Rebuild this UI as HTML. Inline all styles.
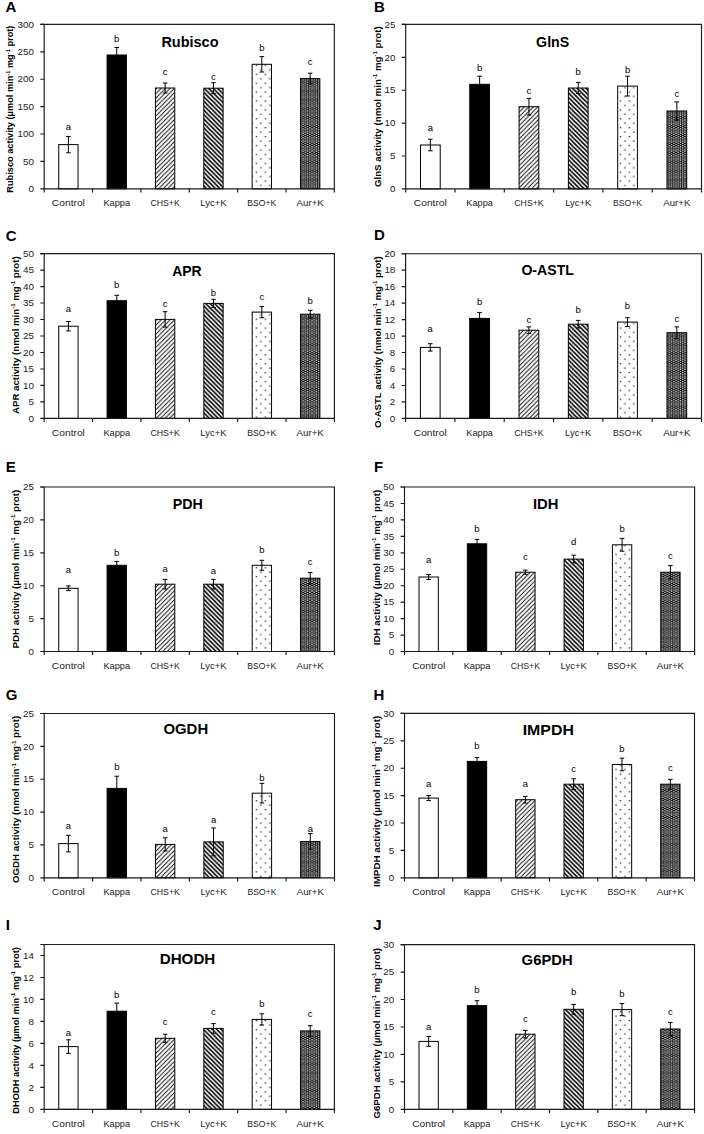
<!DOCTYPE html>
<html><head><meta charset="utf-8"><title>Enzyme activities</title>
<style>
html,body{margin:0;padding:0;background:#fff;}
body{width:704px;height:1134px;overflow:hidden;}
svg{display:block;font-family:"Liberation Sans",sans-serif;}
</style></head><body>
<svg width="704" height="1134" viewBox="0 0 704 1134">
<rect width="704" height="1134" fill="#fff"/>
<defs>
<pattern id="pBSO0" patternUnits="userSpaceOnUse" x="255.75" y="91.45" width="8.9" height="8.9"><rect width="8.9" height="8.9" fill="#fff"/><rect x="0" y="0" width="1.3" height="1.3" fill="#222"/><rect x="4.45" y="4.45" width="1.3" height="1.3" fill="#222"/></pattern>
<pattern id="pAUR0" patternUnits="userSpaceOnUse" x="255.84" y="91.54" width="8.9" height="8.9"><rect width="8.9" height="8.9" fill="#050505"/><path d="M0 0h1.3v1.3h-1.3zM0 2.23h1.3v1.3h-1.3zM0 4.45h1.3v1.3h-1.3zM0 6.68h1.3v1.3h-1.3zM2.23 1.11h1.3v1.3h-1.3zM2.23 3.34h1.3v1.3h-1.3zM2.23 5.56h1.3v1.3h-1.3zM2.23 7.79h1.3v1.3h-1.3zM4.45 0h1.3v1.3h-1.3zM4.45 2.23h1.3v1.3h-1.3zM4.45 4.45h1.3v1.3h-1.3zM4.45 6.68h1.3v1.3h-1.3zM6.68 1.11h1.3v1.3h-1.3zM6.68 3.34h1.3v1.3h-1.3zM6.68 5.56h1.3v1.3h-1.3zM6.68 7.79h1.3v1.3h-1.3z" fill="#fff"/></pattern>
<pattern id="pCHS0" patternUnits="userSpaceOnUse" x="255.84" y="91.54" width="4.45" height="4.45"><path d="M-1 1L1 -1M0 4.45L4.45 0M3.45 5.45L5.45 3.45" stroke="#000" stroke-width="0.9"/></pattern>
<pattern id="pLYC0" patternUnits="userSpaceOnUse" x="256.4" y="91.54" width="4.45" height="4.45"><rect width="4.45" height="4.45" fill="#fff"/><path d="M-1 3.45L1 5.45M0 0L4.45 4.45M3.45 -1L5.45 1" stroke="#000" stroke-width="1.57"/></pattern>
<pattern id="pBSO1" patternUnits="userSpaceOnUse" x="619.8" y="91.45" width="8.9" height="8.9"><rect width="8.9" height="8.9" fill="#fff"/><rect x="0" y="0" width="1.3" height="1.3" fill="#222"/><rect x="4.45" y="4.45" width="1.3" height="1.3" fill="#222"/></pattern>
<pattern id="pAUR1" patternUnits="userSpaceOnUse" x="619.89" y="91.54" width="8.9" height="8.9"><rect width="8.9" height="8.9" fill="#050505"/><path d="M0 0h1.3v1.3h-1.3zM0 2.23h1.3v1.3h-1.3zM0 4.45h1.3v1.3h-1.3zM0 6.68h1.3v1.3h-1.3zM2.23 1.11h1.3v1.3h-1.3zM2.23 3.34h1.3v1.3h-1.3zM2.23 5.56h1.3v1.3h-1.3zM2.23 7.79h1.3v1.3h-1.3zM4.45 0h1.3v1.3h-1.3zM4.45 2.23h1.3v1.3h-1.3zM4.45 4.45h1.3v1.3h-1.3zM4.45 6.68h1.3v1.3h-1.3zM6.68 1.11h1.3v1.3h-1.3zM6.68 3.34h1.3v1.3h-1.3zM6.68 5.56h1.3v1.3h-1.3zM6.68 7.79h1.3v1.3h-1.3z" fill="#fff"/></pattern>
<pattern id="pCHS1" patternUnits="userSpaceOnUse" x="619.89" y="91.54" width="4.45" height="4.45"><path d="M-1 1L1 -1M0 4.45L4.45 0M3.45 5.45L5.45 3.45" stroke="#000" stroke-width="0.9"/></pattern>
<pattern id="pLYC1" patternUnits="userSpaceOnUse" x="620.45" y="91.54" width="4.45" height="4.45"><rect width="4.45" height="4.45" fill="#fff"/><path d="M-1 3.45L1 5.45M0 0L4.45 4.45M3.45 -1L5.45 1" stroke="#000" stroke-width="1.57"/></pattern>
<pattern id="pBSO2" patternUnits="userSpaceOnUse" x="255.75" y="380.85" width="8.9" height="8.9"><rect width="8.9" height="8.9" fill="#fff"/><rect x="0" y="0" width="1.3" height="1.3" fill="#222"/><rect x="4.45" y="4.45" width="1.3" height="1.3" fill="#222"/></pattern>
<pattern id="pAUR2" patternUnits="userSpaceOnUse" x="255.84" y="380.94" width="8.9" height="8.9"><rect width="8.9" height="8.9" fill="#050505"/><path d="M0 0h1.3v1.3h-1.3zM0 2.23h1.3v1.3h-1.3zM0 4.45h1.3v1.3h-1.3zM0 6.68h1.3v1.3h-1.3zM2.23 1.11h1.3v1.3h-1.3zM2.23 3.34h1.3v1.3h-1.3zM2.23 5.56h1.3v1.3h-1.3zM2.23 7.79h1.3v1.3h-1.3zM4.45 0h1.3v1.3h-1.3zM4.45 2.23h1.3v1.3h-1.3zM4.45 4.45h1.3v1.3h-1.3zM4.45 6.68h1.3v1.3h-1.3zM6.68 1.11h1.3v1.3h-1.3zM6.68 3.34h1.3v1.3h-1.3zM6.68 5.56h1.3v1.3h-1.3zM6.68 7.79h1.3v1.3h-1.3z" fill="#fff"/></pattern>
<pattern id="pCHS2" patternUnits="userSpaceOnUse" x="255.84" y="380.94" width="4.45" height="4.45"><path d="M-1 1L1 -1M0 4.45L4.45 0M3.45 5.45L5.45 3.45" stroke="#000" stroke-width="0.9"/></pattern>
<pattern id="pLYC2" patternUnits="userSpaceOnUse" x="256.4" y="380.94" width="4.45" height="4.45"><rect width="4.45" height="4.45" fill="#fff"/><path d="M-1 3.45L1 5.45M0 0L4.45 4.45M3.45 -1L5.45 1" stroke="#000" stroke-width="1.57"/></pattern>
<pattern id="pBSO3" patternUnits="userSpaceOnUse" x="619.8" y="380.85" width="8.9" height="8.9"><rect width="8.9" height="8.9" fill="#fff"/><rect x="0" y="0" width="1.3" height="1.3" fill="#222"/><rect x="4.45" y="4.45" width="1.3" height="1.3" fill="#222"/></pattern>
<pattern id="pAUR3" patternUnits="userSpaceOnUse" x="619.89" y="380.94" width="8.9" height="8.9"><rect width="8.9" height="8.9" fill="#050505"/><path d="M0 0h1.3v1.3h-1.3zM0 2.23h1.3v1.3h-1.3zM0 4.45h1.3v1.3h-1.3zM0 6.68h1.3v1.3h-1.3zM2.23 1.11h1.3v1.3h-1.3zM2.23 3.34h1.3v1.3h-1.3zM2.23 5.56h1.3v1.3h-1.3zM2.23 7.79h1.3v1.3h-1.3zM4.45 0h1.3v1.3h-1.3zM4.45 2.23h1.3v1.3h-1.3zM4.45 4.45h1.3v1.3h-1.3zM4.45 6.68h1.3v1.3h-1.3zM6.68 1.11h1.3v1.3h-1.3zM6.68 3.34h1.3v1.3h-1.3zM6.68 5.56h1.3v1.3h-1.3zM6.68 7.79h1.3v1.3h-1.3z" fill="#fff"/></pattern>
<pattern id="pCHS3" patternUnits="userSpaceOnUse" x="619.89" y="380.94" width="4.45" height="4.45"><path d="M-1 1L1 -1M0 4.45L4.45 0M3.45 5.45L5.45 3.45" stroke="#000" stroke-width="0.9"/></pattern>
<pattern id="pLYC3" patternUnits="userSpaceOnUse" x="620.45" y="380.94" width="4.45" height="4.45"><rect width="4.45" height="4.45" fill="#fff"/><path d="M-1 3.45L1 5.45M0 0L4.45 4.45M3.45 -1L5.45 1" stroke="#000" stroke-width="1.57"/></pattern>
<pattern id="pBSO4" patternUnits="userSpaceOnUse" x="255.75" y="620.55" width="8.9" height="8.9"><rect width="8.9" height="8.9" fill="#fff"/><rect x="0" y="0" width="1.3" height="1.3" fill="#222"/><rect x="4.45" y="4.45" width="1.3" height="1.3" fill="#222"/></pattern>
<pattern id="pAUR4" patternUnits="userSpaceOnUse" x="255.84" y="620.64" width="8.9" height="8.9"><rect width="8.9" height="8.9" fill="#050505"/><path d="M0 0h1.3v1.3h-1.3zM0 2.23h1.3v1.3h-1.3zM0 4.45h1.3v1.3h-1.3zM0 6.68h1.3v1.3h-1.3zM2.23 1.11h1.3v1.3h-1.3zM2.23 3.34h1.3v1.3h-1.3zM2.23 5.56h1.3v1.3h-1.3zM2.23 7.79h1.3v1.3h-1.3zM4.45 0h1.3v1.3h-1.3zM4.45 2.23h1.3v1.3h-1.3zM4.45 4.45h1.3v1.3h-1.3zM4.45 6.68h1.3v1.3h-1.3zM6.68 1.11h1.3v1.3h-1.3zM6.68 3.34h1.3v1.3h-1.3zM6.68 5.56h1.3v1.3h-1.3zM6.68 7.79h1.3v1.3h-1.3z" fill="#fff"/></pattern>
<pattern id="pCHS4" patternUnits="userSpaceOnUse" x="255.84" y="620.64" width="4.45" height="4.45"><path d="M-1 1L1 -1M0 4.45L4.45 0M3.45 5.45L5.45 3.45" stroke="#000" stroke-width="0.9"/></pattern>
<pattern id="pLYC4" patternUnits="userSpaceOnUse" x="256.4" y="620.64" width="4.45" height="4.45"><rect width="4.45" height="4.45" fill="#fff"/><path d="M-1 3.45L1 5.45M0 0L4.45 4.45M3.45 -1L5.45 1" stroke="#000" stroke-width="1.57"/></pattern>
<pattern id="pBSO5" patternUnits="userSpaceOnUse" x="619.8" y="620.55" width="8.9" height="8.9"><rect width="8.9" height="8.9" fill="#fff"/><rect x="0" y="0" width="1.3" height="1.3" fill="#222"/><rect x="4.45" y="4.45" width="1.3" height="1.3" fill="#222"/></pattern>
<pattern id="pAUR5" patternUnits="userSpaceOnUse" x="619.89" y="620.64" width="8.9" height="8.9"><rect width="8.9" height="8.9" fill="#050505"/><path d="M0 0h1.3v1.3h-1.3zM0 2.23h1.3v1.3h-1.3zM0 4.45h1.3v1.3h-1.3zM0 6.68h1.3v1.3h-1.3zM2.23 1.11h1.3v1.3h-1.3zM2.23 3.34h1.3v1.3h-1.3zM2.23 5.56h1.3v1.3h-1.3zM2.23 7.79h1.3v1.3h-1.3zM4.45 0h1.3v1.3h-1.3zM4.45 2.23h1.3v1.3h-1.3zM4.45 4.45h1.3v1.3h-1.3zM4.45 6.68h1.3v1.3h-1.3zM6.68 1.11h1.3v1.3h-1.3zM6.68 3.34h1.3v1.3h-1.3zM6.68 5.56h1.3v1.3h-1.3zM6.68 7.79h1.3v1.3h-1.3z" fill="#fff"/></pattern>
<pattern id="pCHS5" patternUnits="userSpaceOnUse" x="619.89" y="620.64" width="4.45" height="4.45"><path d="M-1 1L1 -1M0 4.45L4.45 0M3.45 5.45L5.45 3.45" stroke="#000" stroke-width="0.9"/></pattern>
<pattern id="pLYC5" patternUnits="userSpaceOnUse" x="620.45" y="620.64" width="4.45" height="4.45"><rect width="4.45" height="4.45" fill="#fff"/><path d="M-1 3.45L1 5.45M0 0L4.45 4.45M3.45 -1L5.45 1" stroke="#000" stroke-width="1.57"/></pattern>
<pattern id="pBSO6" patternUnits="userSpaceOnUse" x="255.75" y="844.55" width="8.9" height="8.9"><rect width="8.9" height="8.9" fill="#fff"/><rect x="0" y="0" width="1.3" height="1.3" fill="#222"/><rect x="4.45" y="4.45" width="1.3" height="1.3" fill="#222"/></pattern>
<pattern id="pAUR6" patternUnits="userSpaceOnUse" x="255.84" y="844.64" width="8.9" height="8.9"><rect width="8.9" height="8.9" fill="#050505"/><path d="M0 0h1.3v1.3h-1.3zM0 2.23h1.3v1.3h-1.3zM0 4.45h1.3v1.3h-1.3zM0 6.68h1.3v1.3h-1.3zM2.23 1.11h1.3v1.3h-1.3zM2.23 3.34h1.3v1.3h-1.3zM2.23 5.56h1.3v1.3h-1.3zM2.23 7.79h1.3v1.3h-1.3zM4.45 0h1.3v1.3h-1.3zM4.45 2.23h1.3v1.3h-1.3zM4.45 4.45h1.3v1.3h-1.3zM4.45 6.68h1.3v1.3h-1.3zM6.68 1.11h1.3v1.3h-1.3zM6.68 3.34h1.3v1.3h-1.3zM6.68 5.56h1.3v1.3h-1.3zM6.68 7.79h1.3v1.3h-1.3z" fill="#fff"/></pattern>
<pattern id="pCHS6" patternUnits="userSpaceOnUse" x="255.84" y="844.64" width="4.45" height="4.45"><path d="M-1 1L1 -1M0 4.45L4.45 0M3.45 5.45L5.45 3.45" stroke="#000" stroke-width="0.9"/></pattern>
<pattern id="pLYC6" patternUnits="userSpaceOnUse" x="256.4" y="844.64" width="4.45" height="4.45"><rect width="4.45" height="4.45" fill="#fff"/><path d="M-1 3.45L1 5.45M0 0L4.45 4.45M3.45 -1L5.45 1" stroke="#000" stroke-width="1.57"/></pattern>
<pattern id="pBSO7" patternUnits="userSpaceOnUse" x="619.8" y="844.55" width="8.9" height="8.9"><rect width="8.9" height="8.9" fill="#fff"/><rect x="0" y="0" width="1.3" height="1.3" fill="#222"/><rect x="4.45" y="4.45" width="1.3" height="1.3" fill="#222"/></pattern>
<pattern id="pAUR7" patternUnits="userSpaceOnUse" x="619.89" y="844.64" width="8.9" height="8.9"><rect width="8.9" height="8.9" fill="#050505"/><path d="M0 0h1.3v1.3h-1.3zM0 2.23h1.3v1.3h-1.3zM0 4.45h1.3v1.3h-1.3zM0 6.68h1.3v1.3h-1.3zM2.23 1.11h1.3v1.3h-1.3zM2.23 3.34h1.3v1.3h-1.3zM2.23 5.56h1.3v1.3h-1.3zM2.23 7.79h1.3v1.3h-1.3zM4.45 0h1.3v1.3h-1.3zM4.45 2.23h1.3v1.3h-1.3zM4.45 4.45h1.3v1.3h-1.3zM4.45 6.68h1.3v1.3h-1.3zM6.68 1.11h1.3v1.3h-1.3zM6.68 3.34h1.3v1.3h-1.3zM6.68 5.56h1.3v1.3h-1.3zM6.68 7.79h1.3v1.3h-1.3z" fill="#fff"/></pattern>
<pattern id="pCHS7" patternUnits="userSpaceOnUse" x="619.89" y="844.64" width="4.45" height="4.45"><path d="M-1 1L1 -1M0 4.45L4.45 0M3.45 5.45L5.45 3.45" stroke="#000" stroke-width="0.9"/></pattern>
<pattern id="pLYC7" patternUnits="userSpaceOnUse" x="620.45" y="844.64" width="4.45" height="4.45"><rect width="4.45" height="4.45" fill="#fff"/><path d="M-1 3.45L1 5.45M0 0L4.45 4.45M3.45 -1L5.45 1" stroke="#000" stroke-width="1.57"/></pattern>
<pattern id="pBSO8" patternUnits="userSpaceOnUse" x="255.75" y="1073.4" width="8.9" height="8.9"><rect width="8.9" height="8.9" fill="#fff"/><rect x="0" y="0" width="1.3" height="1.3" fill="#222"/><rect x="4.45" y="4.45" width="1.3" height="1.3" fill="#222"/></pattern>
<pattern id="pAUR8" patternUnits="userSpaceOnUse" x="255.84" y="1073.49" width="8.9" height="8.9"><rect width="8.9" height="8.9" fill="#050505"/><path d="M0 0h1.3v1.3h-1.3zM0 2.23h1.3v1.3h-1.3zM0 4.45h1.3v1.3h-1.3zM0 6.68h1.3v1.3h-1.3zM2.23 1.11h1.3v1.3h-1.3zM2.23 3.34h1.3v1.3h-1.3zM2.23 5.56h1.3v1.3h-1.3zM2.23 7.79h1.3v1.3h-1.3zM4.45 0h1.3v1.3h-1.3zM4.45 2.23h1.3v1.3h-1.3zM4.45 4.45h1.3v1.3h-1.3zM4.45 6.68h1.3v1.3h-1.3zM6.68 1.11h1.3v1.3h-1.3zM6.68 3.34h1.3v1.3h-1.3zM6.68 5.56h1.3v1.3h-1.3zM6.68 7.79h1.3v1.3h-1.3z" fill="#fff"/></pattern>
<pattern id="pCHS8" patternUnits="userSpaceOnUse" x="255.84" y="1073.49" width="4.45" height="4.45"><path d="M-1 1L1 -1M0 4.45L4.45 0M3.45 5.45L5.45 3.45" stroke="#000" stroke-width="0.9"/></pattern>
<pattern id="pLYC8" patternUnits="userSpaceOnUse" x="256.4" y="1073.49" width="4.45" height="4.45"><rect width="4.45" height="4.45" fill="#fff"/><path d="M-1 3.45L1 5.45M0 0L4.45 4.45M3.45 -1L5.45 1" stroke="#000" stroke-width="1.57"/></pattern>
<pattern id="pBSO9" patternUnits="userSpaceOnUse" x="619.8" y="1073.4" width="8.9" height="8.9"><rect width="8.9" height="8.9" fill="#fff"/><rect x="0" y="0" width="1.3" height="1.3" fill="#222"/><rect x="4.45" y="4.45" width="1.3" height="1.3" fill="#222"/></pattern>
<pattern id="pAUR9" patternUnits="userSpaceOnUse" x="619.89" y="1073.49" width="8.9" height="8.9"><rect width="8.9" height="8.9" fill="#050505"/><path d="M0 0h1.3v1.3h-1.3zM0 2.23h1.3v1.3h-1.3zM0 4.45h1.3v1.3h-1.3zM0 6.68h1.3v1.3h-1.3zM2.23 1.11h1.3v1.3h-1.3zM2.23 3.34h1.3v1.3h-1.3zM2.23 5.56h1.3v1.3h-1.3zM2.23 7.79h1.3v1.3h-1.3zM4.45 0h1.3v1.3h-1.3zM4.45 2.23h1.3v1.3h-1.3zM4.45 4.45h1.3v1.3h-1.3zM4.45 6.68h1.3v1.3h-1.3zM6.68 1.11h1.3v1.3h-1.3zM6.68 3.34h1.3v1.3h-1.3zM6.68 5.56h1.3v1.3h-1.3zM6.68 7.79h1.3v1.3h-1.3z" fill="#fff"/></pattern>
<pattern id="pCHS9" patternUnits="userSpaceOnUse" x="619.89" y="1073.49" width="4.45" height="4.45"><path d="M-1 1L1 -1M0 4.45L4.45 0M3.45 5.45L5.45 3.45" stroke="#000" stroke-width="0.9"/></pattern>
<pattern id="pLYC9" patternUnits="userSpaceOnUse" x="620.45" y="1073.49" width="4.45" height="4.45"><rect width="4.45" height="4.45" fill="#fff"/><path d="M-1 3.45L1 5.45M0 0L4.45 4.45M3.45 -1L5.45 1" stroke="#000" stroke-width="1.57"/></pattern>
</defs>
<g><rect x="58.71" y="144.6" width="19.34" height="44.2" fill="#fff" stroke="#000" stroke-width="1"/><rect x="107.07" y="55" width="19.34" height="133.8" fill="#000" stroke="#000" stroke-width="1"/><rect x="155.42" y="88" width="19.34" height="100.8" fill="url(#pCHS0)" stroke="#000" stroke-width="1"/><rect x="203.78" y="88.2" width="19.34" height="100.6" fill="url(#pLYC0)" stroke="#000" stroke-width="1"/><rect x="252.14" y="64.3" width="19.34" height="124.5" fill="url(#pBSO0)" stroke="#000" stroke-width="1"/><rect x="300.5" y="78.6" width="19.34" height="110.2" fill="url(#pAUR0)" stroke="#000" stroke-width="1"/><path d="M68.38 136.4V152.8M66.08 136.4H70.68M66.08 152.8H70.68" stroke="#000" stroke-width="1" fill="none"/><text x="68.38" y="129.6" text-anchor="middle" font-size="9.5">a</text><path d="M116.74 47.5V62.5M114.44 47.5H119.04M114.44 62.5H119.04" stroke="#000" stroke-width="1" fill="none"/><text x="116.74" y="41.8" text-anchor="middle" font-size="9.5">b</text><path d="M165.1 83V93M162.8 83H167.4M162.8 93H167.4" stroke="#000" stroke-width="1" fill="none"/><text x="165.1" y="74.8" text-anchor="middle" font-size="9.5">c</text><path d="M213.45 82.7V93.7M211.15 82.7H215.75M211.15 93.7H215.75" stroke="#000" stroke-width="1" fill="none"/><text x="213.45" y="80.2" text-anchor="middle" font-size="9.5">c</text><path d="M261.81 56.6V72M259.51 56.6H264.11M259.51 72H264.11" stroke="#000" stroke-width="1" fill="none"/><text x="261.81" y="51.4" text-anchor="middle" font-size="9.5">b</text><path d="M310.17 73.2V84M307.87 73.2H312.47M307.87 84H312.47" stroke="#000" stroke-width="1" fill="none"/><text x="310.17" y="64.9" text-anchor="middle" font-size="9.5">c</text><path d="M40.3 24.4H334.35V188.8" stroke="#1a1a1a" stroke-width="1.15" fill="none"/><path d="M44.2 24.4V188.8H334.35" stroke="#1a1a1a" stroke-width="1.15" fill="none"/><text x="33.9" y="192" text-anchor="end" font-size="9.8" fill="#222">0</text><text x="33.9" y="164.6" text-anchor="end" font-size="9.8" fill="#222">50</text><text x="33.9" y="137.2" text-anchor="end" font-size="9.8" fill="#222">100</text><text x="33.9" y="109.8" text-anchor="end" font-size="9.8" fill="#222">150</text><text x="33.9" y="82.4" text-anchor="end" font-size="9.8" fill="#222">200</text><text x="33.9" y="55" text-anchor="end" font-size="9.8" fill="#222">250</text><text x="33.9" y="27.6" text-anchor="end" font-size="9.8" fill="#222">300</text><path d="M40.3 188.8H44.2M40.3 161.4H44.2M40.3 134H44.2M40.3 106.6H44.2M40.3 79.2H44.2M40.3 51.8H44.2M40.3 24.4H44.2M44.2 188.8V192.4M92.56 188.8V192.4M140.92 188.8V192.4M189.28 188.8V192.4M237.63 188.8V192.4M285.99 188.8V192.4M334.35 188.8V192.4" stroke="#1a1a1a" stroke-width="1.15" fill="none"/><text x="68.38" y="206" text-anchor="middle" font-size="9.4" fill="#222" textLength="33" lengthAdjust="spacingAndGlyphs">Control</text><text x="116.74" y="206" text-anchor="middle" font-size="9.4" fill="#222" textLength="26.7" lengthAdjust="spacingAndGlyphs">Kappa</text><text x="165.1" y="206" text-anchor="middle" font-size="9.4" fill="#222" textLength="29.3" lengthAdjust="spacingAndGlyphs">CHS+K</text><text x="213.45" y="206" text-anchor="middle" font-size="9.4" fill="#222" textLength="26.2" lengthAdjust="spacingAndGlyphs">Lyc+K</text><text x="261.81" y="206" text-anchor="middle" font-size="9.4" fill="#222" textLength="29" lengthAdjust="spacingAndGlyphs">BSO+K</text><text x="310.17" y="206" text-anchor="middle" font-size="9.4" fill="#222" textLength="27.3" lengthAdjust="spacingAndGlyphs">Aur+K</text><text x="161.4" y="46.6" font-size="14.8" font-weight="bold" textLength="57.1" lengthAdjust="spacingAndGlyphs">Rubisco</text><text x="5.4" y="12.4" font-size="15" font-weight="bold">A</text><text transform="translate(13.1 192.7) rotate(-90)" x="0" y="0" font-size="9.7" font-weight="bold" textLength="167.1" lengthAdjust="spacingAndGlyphs">Rubisco activity (µmol min<tspan font-size="6" dy="-3.6">-1</tspan><tspan dy="3.6"> mg</tspan><tspan font-size="6" dy="-3.6">-1</tspan><tspan dy="3.6"> prot)</tspan></text></g>
<g><rect x="420.49" y="145" width="19.72" height="43.9" fill="#fff" stroke="#000" stroke-width="1"/><rect x="469.79" y="84.3" width="19.72" height="104.6" fill="#000" stroke="#000" stroke-width="1"/><rect x="519.09" y="106.7" width="19.72" height="82.2" fill="url(#pCHS1)" stroke="#000" stroke-width="1"/><rect x="568.39" y="88" width="19.72" height="100.9" fill="url(#pLYC1)" stroke="#000" stroke-width="1"/><rect x="617.69" y="86.1" width="19.72" height="102.8" fill="url(#pBSO1)" stroke="#000" stroke-width="1"/><rect x="666.99" y="111" width="19.72" height="77.9" fill="url(#pAUR1)" stroke="#000" stroke-width="1"/><path d="M430.35 139.2V150.8M428.05 139.2H432.65M428.05 150.8H432.65" stroke="#000" stroke-width="1" fill="none"/><text x="430.35" y="130.5" text-anchor="middle" font-size="9.5">a</text><path d="M479.65 76.2V92.4M477.35 76.2H481.95M477.35 92.4H481.95" stroke="#000" stroke-width="1" fill="none"/><text x="479.65" y="71.4" text-anchor="middle" font-size="9.5">b</text><path d="M528.95 98.4V115M526.65 98.4H531.25M526.65 115H531.25" stroke="#000" stroke-width="1" fill="none"/><text x="528.95" y="93.6" text-anchor="middle" font-size="9.5">c</text><path d="M578.25 82.4V93.6M575.95 82.4H580.55M575.95 93.6H580.55" stroke="#000" stroke-width="1" fill="none"/><text x="578.25" y="74.9" text-anchor="middle" font-size="9.5">b</text><path d="M627.55 76.2V96M625.25 76.2H629.85M625.25 96H629.85" stroke="#000" stroke-width="1" fill="none"/><text x="627.55" y="72.9" text-anchor="middle" font-size="9.5">b</text><path d="M676.85 101.9V120.1M674.55 101.9H679.15M674.55 120.1H679.15" stroke="#000" stroke-width="1" fill="none"/><text x="676.85" y="97.3" text-anchor="middle" font-size="9.5">c</text><path d="M401.8 24.4H701.5V188.9" stroke="#1a1a1a" stroke-width="1.15" fill="none"/><path d="M405.7 24.4V188.9H701.5" stroke="#1a1a1a" stroke-width="1.15" fill="none"/><text x="395.4" y="192.1" text-anchor="end" font-size="9.8" fill="#222">0</text><text x="395.4" y="159.2" text-anchor="end" font-size="9.8" fill="#222">5</text><text x="395.4" y="126.3" text-anchor="end" font-size="9.8" fill="#222">10</text><text x="395.4" y="93.4" text-anchor="end" font-size="9.8" fill="#222">15</text><text x="395.4" y="60.5" text-anchor="end" font-size="9.8" fill="#222">20</text><text x="395.4" y="27.6" text-anchor="end" font-size="9.8" fill="#222">25</text><path d="M401.8 188.9H405.7M401.8 156H405.7M401.8 123.1H405.7M401.8 90.2H405.7M401.8 57.3H405.7M401.8 24.4H405.7M405.7 188.9V192.5M455 188.9V192.5M504.3 188.9V192.5M553.6 188.9V192.5M602.9 188.9V192.5M652.2 188.9V192.5M701.5 188.9V192.5" stroke="#1a1a1a" stroke-width="1.15" fill="none"/><text x="430.35" y="206.1" text-anchor="middle" font-size="9.4" fill="#222" textLength="33" lengthAdjust="spacingAndGlyphs">Control</text><text x="479.65" y="206.1" text-anchor="middle" font-size="9.4" fill="#222" textLength="26.7" lengthAdjust="spacingAndGlyphs">Kappa</text><text x="528.95" y="206.1" text-anchor="middle" font-size="9.4" fill="#222" textLength="29.3" lengthAdjust="spacingAndGlyphs">CHS+K</text><text x="578.25" y="206.1" text-anchor="middle" font-size="9.4" fill="#222" textLength="26.2" lengthAdjust="spacingAndGlyphs">Lyc+K</text><text x="627.55" y="206.1" text-anchor="middle" font-size="9.4" fill="#222" textLength="29" lengthAdjust="spacingAndGlyphs">BSO+K</text><text x="676.85" y="206.1" text-anchor="middle" font-size="9.4" fill="#222" textLength="27.3" lengthAdjust="spacingAndGlyphs">Aur+K</text><text x="536.1" y="46.6" font-size="14.8" font-weight="bold" textLength="33.2" lengthAdjust="spacingAndGlyphs">GlnS</text><text x="373.9" y="12" font-size="15" font-weight="bold">B</text><text transform="translate(380.8 187.1) rotate(-90)" x="0" y="0" font-size="9.7" font-weight="bold" textLength="160.8" lengthAdjust="spacingAndGlyphs">GlnS activity (nmol min<tspan font-size="6" dy="-3.6">-1</tspan><tspan dy="3.6"> mg</tspan><tspan font-size="6" dy="-3.6">-1</tspan><tspan dy="3.6"> prot)</tspan></text></g>
<g><rect x="58.71" y="326.2" width="19.35" height="92.2" fill="#fff" stroke="#000" stroke-width="1"/><rect x="107.08" y="300.7" width="19.35" height="117.7" fill="#000" stroke="#000" stroke-width="1"/><rect x="155.44" y="319.4" width="19.35" height="99" fill="url(#pCHS2)" stroke="#000" stroke-width="1"/><rect x="203.81" y="303.4" width="19.35" height="115" fill="url(#pLYC2)" stroke="#000" stroke-width="1"/><rect x="252.18" y="312.1" width="19.35" height="106.3" fill="url(#pBSO2)" stroke="#000" stroke-width="1"/><rect x="300.54" y="314.2" width="19.35" height="104.2" fill="url(#pAUR2)" stroke="#000" stroke-width="1"/><path d="M68.38 321.5V330.9M66.08 321.5H70.68M66.08 330.9H70.68" stroke="#000" stroke-width="1" fill="none"/><text x="68.38" y="311.5" text-anchor="middle" font-size="9.5">a</text><path d="M116.75 295.3V306.1M114.45 295.3H119.05M114.45 306.1H119.05" stroke="#000" stroke-width="1" fill="none"/><text x="116.75" y="287.7" text-anchor="middle" font-size="9.5">b</text><path d="M165.12 311.7V327.1M162.82 311.7H167.42M162.82 327.1H167.42" stroke="#000" stroke-width="1" fill="none"/><text x="165.12" y="307" text-anchor="middle" font-size="9.5">c</text><path d="M213.48 299.3V307.5M211.18 299.3H215.78M211.18 307.5H215.78" stroke="#000" stroke-width="1" fill="none"/><text x="213.48" y="295.6" text-anchor="middle" font-size="9.5">b</text><path d="M261.85 306.5V317.7M259.55 306.5H264.15M259.55 317.7H264.15" stroke="#000" stroke-width="1" fill="none"/><text x="261.85" y="299.7" text-anchor="middle" font-size="9.5">c</text><path d="M310.22 310.3V318.1M307.92 310.3H312.52M307.92 318.1H312.52" stroke="#000" stroke-width="1" fill="none"/><text x="310.22" y="304.3" text-anchor="middle" font-size="9.5">b</text><path d="M40.3 253.6H334.4V418.4" stroke="#1a1a1a" stroke-width="1.15" fill="none"/><path d="M44.2 253.6V418.4H334.4" stroke="#1a1a1a" stroke-width="1.15" fill="none"/><text x="33.9" y="421.6" text-anchor="end" font-size="9.8" fill="#222">0</text><text x="33.9" y="405.12" text-anchor="end" font-size="9.8" fill="#222">5</text><text x="33.9" y="388.64" text-anchor="end" font-size="9.8" fill="#222">10</text><text x="33.9" y="372.16" text-anchor="end" font-size="9.8" fill="#222">15</text><text x="33.9" y="355.68" text-anchor="end" font-size="9.8" fill="#222">20</text><text x="33.9" y="339.2" text-anchor="end" font-size="9.8" fill="#222">25</text><text x="33.9" y="322.72" text-anchor="end" font-size="9.8" fill="#222">30</text><text x="33.9" y="306.24" text-anchor="end" font-size="9.8" fill="#222">35</text><text x="33.9" y="289.76" text-anchor="end" font-size="9.8" fill="#222">40</text><text x="33.9" y="273.28" text-anchor="end" font-size="9.8" fill="#222">45</text><text x="33.9" y="256.8" text-anchor="end" font-size="9.8" fill="#222">50</text><path d="M40.3 418.4H44.2M40.3 401.92H44.2M40.3 385.44H44.2M40.3 368.96H44.2M40.3 352.48H44.2M40.3 336H44.2M40.3 319.52H44.2M40.3 303.04H44.2M40.3 286.56H44.2M40.3 270.08H44.2M40.3 253.6H44.2M44.2 418.4V422M92.57 418.4V422M140.93 418.4V422M189.3 418.4V422M237.67 418.4V422M286.03 418.4V422M334.4 418.4V422" stroke="#1a1a1a" stroke-width="1.15" fill="none"/><text x="68.38" y="435.6" text-anchor="middle" font-size="9.4" fill="#222" textLength="33" lengthAdjust="spacingAndGlyphs">Control</text><text x="116.75" y="435.6" text-anchor="middle" font-size="9.4" fill="#222" textLength="26.7" lengthAdjust="spacingAndGlyphs">Kappa</text><text x="165.12" y="435.6" text-anchor="middle" font-size="9.4" fill="#222" textLength="29.3" lengthAdjust="spacingAndGlyphs">CHS+K</text><text x="213.48" y="435.6" text-anchor="middle" font-size="9.4" fill="#222" textLength="26.2" lengthAdjust="spacingAndGlyphs">Lyc+K</text><text x="261.85" y="435.6" text-anchor="middle" font-size="9.4" fill="#222" textLength="29" lengthAdjust="spacingAndGlyphs">BSO+K</text><text x="310.22" y="435.6" text-anchor="middle" font-size="9.4" fill="#222" textLength="27.3" lengthAdjust="spacingAndGlyphs">Aur+K</text><text x="172.2" y="275.8" font-size="14.8" font-weight="bold" textLength="29.5" lengthAdjust="spacingAndGlyphs">APR</text><text x="5.7" y="240.5" font-size="15" font-weight="bold">C</text><text transform="translate(19 414) rotate(-90)" x="0" y="0" font-size="9.7" font-weight="bold" textLength="157.7" lengthAdjust="spacingAndGlyphs">APR activity (nmol min<tspan font-size="6" dy="-3.6">-1</tspan><tspan dy="3.6"> mg</tspan><tspan font-size="6" dy="-3.6">-1</tspan><tspan dy="3.6"> prot)</tspan></text></g>
<g><rect x="420.39" y="347.4" width="19.73" height="71" fill="#fff" stroke="#000" stroke-width="1"/><rect x="469.71" y="318.4" width="19.73" height="100" fill="#000" stroke="#000" stroke-width="1"/><rect x="519.03" y="330.2" width="19.73" height="88.2" fill="url(#pCHS3)" stroke="#000" stroke-width="1"/><rect x="568.35" y="324.2" width="19.73" height="94.2" fill="url(#pLYC3)" stroke="#000" stroke-width="1"/><rect x="617.66" y="322.1" width="19.73" height="96.3" fill="url(#pBSO3)" stroke="#000" stroke-width="1"/><rect x="666.98" y="332.7" width="19.73" height="85.7" fill="url(#pAUR3)" stroke="#000" stroke-width="1"/><path d="M430.26 343.7V351.1M427.96 343.7H432.56M427.96 351.1H432.56" stroke="#000" stroke-width="1" fill="none"/><text x="430.26" y="332.3" text-anchor="middle" font-size="9.5">a</text><path d="M479.58 312.6V324.2M477.28 312.6H481.88M477.28 324.2H481.88" stroke="#000" stroke-width="1" fill="none"/><text x="479.58" y="305.3" text-anchor="middle" font-size="9.5">b</text><path d="M528.89 326.9V333.5M526.59 326.9H531.19M526.59 333.5H531.19" stroke="#000" stroke-width="1" fill="none"/><text x="528.89" y="322.5" text-anchor="middle" font-size="9.5">c</text><path d="M578.21 320.4V328M575.91 320.4H580.51M575.91 328H580.51" stroke="#000" stroke-width="1" fill="none"/><text x="578.21" y="312.6" text-anchor="middle" font-size="9.5">b</text><path d="M627.52 317.7V326.5M625.23 317.7H629.82M625.23 326.5H629.82" stroke="#000" stroke-width="1" fill="none"/><text x="627.52" y="309" text-anchor="middle" font-size="9.5">b</text><path d="M676.84 326.9V338.5M674.54 326.9H679.14M674.54 338.5H679.14" stroke="#000" stroke-width="1" fill="none"/><text x="676.84" y="321.9" text-anchor="middle" font-size="9.5">c</text><path d="M401.7 253.7H701.5V418.4" stroke="#1a1a1a" stroke-width="1.15" fill="none"/><path d="M405.6 253.7V418.4H701.5" stroke="#1a1a1a" stroke-width="1.15" fill="none"/><text x="395.3" y="421.6" text-anchor="end" font-size="9.8" fill="#222">0</text><text x="395.3" y="405.13" text-anchor="end" font-size="9.8" fill="#222">2</text><text x="395.3" y="388.66" text-anchor="end" font-size="9.8" fill="#222">4</text><text x="395.3" y="372.19" text-anchor="end" font-size="9.8" fill="#222">6</text><text x="395.3" y="355.72" text-anchor="end" font-size="9.8" fill="#222">8</text><text x="395.3" y="339.25" text-anchor="end" font-size="9.8" fill="#222">10</text><text x="395.3" y="322.78" text-anchor="end" font-size="9.8" fill="#222">12</text><text x="395.3" y="306.31" text-anchor="end" font-size="9.8" fill="#222">14</text><text x="395.3" y="289.84" text-anchor="end" font-size="9.8" fill="#222">16</text><text x="395.3" y="273.37" text-anchor="end" font-size="9.8" fill="#222">18</text><text x="395.3" y="256.9" text-anchor="end" font-size="9.8" fill="#222">20</text><path d="M401.7 418.4H405.6M401.7 401.93H405.6M401.7 385.46H405.6M401.7 368.99H405.6M401.7 352.52H405.6M401.7 336.05H405.6M401.7 319.58H405.6M401.7 303.11H405.6M401.7 286.64H405.6M401.7 270.17H405.6M401.7 253.7H405.6M405.6 418.4V422M454.92 418.4V422M504.23 418.4V422M553.55 418.4V422M602.87 418.4V422M652.18 418.4V422M701.5 418.4V422" stroke="#1a1a1a" stroke-width="1.15" fill="none"/><text x="430.26" y="435.6" text-anchor="middle" font-size="9.4" fill="#222" textLength="33" lengthAdjust="spacingAndGlyphs">Control</text><text x="479.58" y="435.6" text-anchor="middle" font-size="9.4" fill="#222" textLength="26.7" lengthAdjust="spacingAndGlyphs">Kappa</text><text x="528.89" y="435.6" text-anchor="middle" font-size="9.4" fill="#222" textLength="29.3" lengthAdjust="spacingAndGlyphs">CHS+K</text><text x="578.21" y="435.6" text-anchor="middle" font-size="9.4" fill="#222" textLength="26.2" lengthAdjust="spacingAndGlyphs">Lyc+K</text><text x="627.52" y="435.6" text-anchor="middle" font-size="9.4" fill="#222" textLength="29" lengthAdjust="spacingAndGlyphs">BSO+K</text><text x="676.84" y="435.6" text-anchor="middle" font-size="9.4" fill="#222" textLength="27.3" lengthAdjust="spacingAndGlyphs">Aur+K</text><text x="521.4" y="275.4" font-size="14.8" font-weight="bold" textLength="52.5" lengthAdjust="spacingAndGlyphs">O-ASTL</text><text x="373.9" y="240" font-size="15" font-weight="bold">D</text><text transform="translate(380.5 428) rotate(-90)" x="0" y="0" font-size="9.7" font-weight="bold" textLength="171.7" lengthAdjust="spacingAndGlyphs">O-ASTL activity (nmol min<tspan font-size="6" dy="-3.6">-1</tspan><tspan dy="3.6"> mg</tspan><tspan font-size="6" dy="-3.6">-1</tspan><tspan dy="3.6"> prot)</tspan></text></g>
<g><rect x="58.71" y="588.3" width="19.35" height="63.2" fill="#fff" stroke="#000" stroke-width="1"/><rect x="107.08" y="565.3" width="19.35" height="86.2" fill="#000" stroke="#000" stroke-width="1"/><rect x="155.44" y="584.2" width="19.35" height="67.3" fill="url(#pCHS4)" stroke="#000" stroke-width="1"/><rect x="203.81" y="584.2" width="19.35" height="67.3" fill="url(#pLYC4)" stroke="#000" stroke-width="1"/><rect x="252.18" y="565.3" width="19.35" height="86.2" fill="url(#pBSO4)" stroke="#000" stroke-width="1"/><rect x="300.54" y="578.2" width="19.35" height="73.3" fill="url(#pAUR4)" stroke="#000" stroke-width="1"/><path d="M68.38 586V590.6M66.08 586H70.68M66.08 590.6H70.68" stroke="#000" stroke-width="1" fill="none"/><text x="68.38" y="573.2" text-anchor="middle" font-size="9.5">a</text><path d="M116.75 561.4V569.2M114.45 561.4H119.05M114.45 569.2H119.05" stroke="#000" stroke-width="1" fill="none"/><text x="116.75" y="555.6" text-anchor="middle" font-size="9.5">b</text><path d="M165.12 579.4V589M162.82 579.4H167.42M162.82 589H167.42" stroke="#000" stroke-width="1" fill="none"/><text x="165.12" y="571.7" text-anchor="middle" font-size="9.5">a</text><path d="M213.48 579.4V589M211.18 579.4H215.78M211.18 589H215.78" stroke="#000" stroke-width="1" fill="none"/><text x="213.48" y="573.6" text-anchor="middle" font-size="9.5">a</text><path d="M261.85 560.3V570.3M259.55 560.3H264.15M259.55 570.3H264.15" stroke="#000" stroke-width="1" fill="none"/><text x="261.85" y="552.9" text-anchor="middle" font-size="9.5">b</text><path d="M310.22 572.6V583.8M307.92 572.6H312.52M307.92 583.8H312.52" stroke="#000" stroke-width="1" fill="none"/><text x="310.22" y="564.5" text-anchor="middle" font-size="9.5">c</text><path d="M40.3 487H334.4V651.5" stroke="#1a1a1a" stroke-width="1.15" fill="none"/><path d="M44.2 487V651.5H334.4" stroke="#1a1a1a" stroke-width="1.15" fill="none"/><text x="33.9" y="654.7" text-anchor="end" font-size="9.8" fill="#222">0</text><text x="33.9" y="621.8" text-anchor="end" font-size="9.8" fill="#222">5</text><text x="33.9" y="588.9" text-anchor="end" font-size="9.8" fill="#222">10</text><text x="33.9" y="556" text-anchor="end" font-size="9.8" fill="#222">15</text><text x="33.9" y="523.1" text-anchor="end" font-size="9.8" fill="#222">20</text><text x="33.9" y="490.2" text-anchor="end" font-size="9.8" fill="#222">25</text><path d="M40.3 651.5H44.2M40.3 618.6H44.2M40.3 585.7H44.2M40.3 552.8H44.2M40.3 519.9H44.2M40.3 487H44.2M44.2 651.5V655.1M92.57 651.5V655.1M140.93 651.5V655.1M189.3 651.5V655.1M237.67 651.5V655.1M286.03 651.5V655.1M334.4 651.5V655.1" stroke="#1a1a1a" stroke-width="1.15" fill="none"/><text x="68.38" y="668.7" text-anchor="middle" font-size="9.4" fill="#222" textLength="33" lengthAdjust="spacingAndGlyphs">Control</text><text x="116.75" y="668.7" text-anchor="middle" font-size="9.4" fill="#222" textLength="26.7" lengthAdjust="spacingAndGlyphs">Kappa</text><text x="165.12" y="668.7" text-anchor="middle" font-size="9.4" fill="#222" textLength="29.3" lengthAdjust="spacingAndGlyphs">CHS+K</text><text x="213.48" y="668.7" text-anchor="middle" font-size="9.4" fill="#222" textLength="26.2" lengthAdjust="spacingAndGlyphs">Lyc+K</text><text x="261.85" y="668.7" text-anchor="middle" font-size="9.4" fill="#222" textLength="29" lengthAdjust="spacingAndGlyphs">BSO+K</text><text x="310.22" y="668.7" text-anchor="middle" font-size="9.4" fill="#222" textLength="27.3" lengthAdjust="spacingAndGlyphs">Aur+K</text><text x="172.7" y="509.4" font-size="14.8" font-weight="bold" textLength="30.1" lengthAdjust="spacingAndGlyphs">PDH</text><text x="5.7" y="472.3" font-size="15" font-weight="bold">E</text><text transform="translate(19 648.4) rotate(-90)" x="0" y="0" font-size="9.7" font-weight="bold" textLength="158.6" lengthAdjust="spacingAndGlyphs">PDH activity (µmol min<tspan font-size="6" dy="-3.6">-1</tspan><tspan dy="3.6"> mg</tspan><tspan font-size="6" dy="-3.6">-1</tspan><tspan dy="3.6"> prot)</tspan></text></g>
<g><rect x="419" y="577" width="19.34" height="74.5" fill="#fff" stroke="#000" stroke-width="1"/><rect x="467.35" y="543.8" width="19.34" height="107.7" fill="#000" stroke="#000" stroke-width="1"/><rect x="515.71" y="572.2" width="19.34" height="79.3" fill="url(#pCHS5)" stroke="#000" stroke-width="1"/><rect x="564.06" y="559.1" width="19.34" height="92.4" fill="url(#pLYC5)" stroke="#000" stroke-width="1"/><rect x="612.41" y="544.8" width="19.34" height="106.7" fill="url(#pBSO5)" stroke="#000" stroke-width="1"/><rect x="660.75" y="572.2" width="19.34" height="79.3" fill="url(#pAUR5)" stroke="#000" stroke-width="1"/><path d="M428.68 574.5V579.5M426.38 574.5H430.98M426.38 579.5H430.98" stroke="#000" stroke-width="1" fill="none"/><text x="428.68" y="562.5" text-anchor="middle" font-size="9.5">a</text><path d="M477.02 539.4V548.2M474.72 539.4H479.32M474.72 548.2H479.32" stroke="#000" stroke-width="1" fill="none"/><text x="477.02" y="532.2" text-anchor="middle" font-size="9.5">b</text><path d="M525.38 570.1V574.3M523.08 570.1H527.67M523.08 574.3H527.67" stroke="#000" stroke-width="1" fill="none"/><text x="525.38" y="559.8" text-anchor="middle" font-size="9.5">c</text><path d="M573.73 555.2V563M571.43 555.2H576.02M571.43 563H576.02" stroke="#000" stroke-width="1" fill="none"/><text x="573.73" y="545.3" text-anchor="middle" font-size="9.5">d</text><path d="M622.08 538.4V551.2M619.78 538.4H624.38M619.78 551.2H624.38" stroke="#000" stroke-width="1" fill="none"/><text x="622.08" y="532.2" text-anchor="middle" font-size="9.5">b</text><path d="M670.42 565.6V578.8M668.12 565.6H672.72M668.12 578.8H672.72" stroke="#000" stroke-width="1" fill="none"/><text x="670.42" y="558.7" text-anchor="middle" font-size="9.5">c</text><path d="M400.6 487H694.6V651.5" stroke="#1a1a1a" stroke-width="1.15" fill="none"/><path d="M404.5 487V651.5H694.6" stroke="#1a1a1a" stroke-width="1.15" fill="none"/><text x="394.2" y="654.7" text-anchor="end" font-size="9.8" fill="#222">0</text><text x="394.2" y="638.25" text-anchor="end" font-size="9.8" fill="#222">5</text><text x="394.2" y="621.8" text-anchor="end" font-size="9.8" fill="#222">10</text><text x="394.2" y="605.35" text-anchor="end" font-size="9.8" fill="#222">15</text><text x="394.2" y="588.9" text-anchor="end" font-size="9.8" fill="#222">20</text><text x="394.2" y="572.45" text-anchor="end" font-size="9.8" fill="#222">25</text><text x="394.2" y="556" text-anchor="end" font-size="9.8" fill="#222">30</text><text x="394.2" y="539.55" text-anchor="end" font-size="9.8" fill="#222">35</text><text x="394.2" y="523.1" text-anchor="end" font-size="9.8" fill="#222">40</text><text x="394.2" y="506.65" text-anchor="end" font-size="9.8" fill="#222">45</text><text x="394.2" y="490.2" text-anchor="end" font-size="9.8" fill="#222">50</text><path d="M400.6 651.5H404.5M400.6 635.05H404.5M400.6 618.6H404.5M400.6 602.15H404.5M400.6 585.7H404.5M400.6 569.25H404.5M400.6 552.8H404.5M400.6 536.35H404.5M400.6 519.9H404.5M400.6 503.45H404.5M400.6 487H404.5M404.5 651.5V655.1M452.85 651.5V655.1M501.2 651.5V655.1M549.55 651.5V655.1M597.9 651.5V655.1M646.25 651.5V655.1M694.6 651.5V655.1" stroke="#1a1a1a" stroke-width="1.15" fill="none"/><text x="428.68" y="668.7" text-anchor="middle" font-size="9.4" fill="#222" textLength="33" lengthAdjust="spacingAndGlyphs">Control</text><text x="477.02" y="668.7" text-anchor="middle" font-size="9.4" fill="#222" textLength="26.7" lengthAdjust="spacingAndGlyphs">Kappa</text><text x="525.38" y="668.7" text-anchor="middle" font-size="9.4" fill="#222" textLength="29.3" lengthAdjust="spacingAndGlyphs">CHS+K</text><text x="573.73" y="668.7" text-anchor="middle" font-size="9.4" fill="#222" textLength="26.2" lengthAdjust="spacingAndGlyphs">Lyc+K</text><text x="622.08" y="668.7" text-anchor="middle" font-size="9.4" fill="#222" textLength="29" lengthAdjust="spacingAndGlyphs">BSO+K</text><text x="670.42" y="668.7" text-anchor="middle" font-size="9.4" fill="#222" textLength="27.3" lengthAdjust="spacingAndGlyphs">Aur+K</text><text x="533" y="509.4" font-size="14.8" font-weight="bold" textLength="25.5" lengthAdjust="spacingAndGlyphs">IDH</text><text x="374.1" y="472.2" font-size="15" font-weight="bold">F</text><text transform="translate(379.9 645.2) rotate(-90)" x="0" y="0" font-size="9.7" font-weight="bold" textLength="155.4" lengthAdjust="spacingAndGlyphs">IDH activity (µmol min<tspan font-size="6" dy="-3.6">-1</tspan><tspan dy="3.6"> mg</tspan><tspan font-size="6" dy="-3.6">-1</tspan><tspan dy="3.6"> prot)</tspan></text></g>
<g><rect x="58.71" y="843.6" width="19.35" height="34.2" fill="#fff" stroke="#000" stroke-width="1"/><rect x="107.1" y="788.4" width="19.35" height="89.4" fill="#000" stroke="#000" stroke-width="1"/><rect x="155.48" y="844.4" width="19.35" height="33.4" fill="url(#pCHS6)" stroke="#000" stroke-width="1"/><rect x="203.87" y="841.9" width="19.35" height="35.9" fill="url(#pLYC6)" stroke="#000" stroke-width="1"/><rect x="252.25" y="793.2" width="19.35" height="84.6" fill="url(#pBSO6)" stroke="#000" stroke-width="1"/><rect x="300.63" y="841.5" width="19.35" height="36.3" fill="url(#pAUR6)" stroke="#000" stroke-width="1"/><path d="M68.39 835.3V851.9M66.09 835.3H70.69M66.09 851.9H70.69" stroke="#000" stroke-width="1" fill="none"/><text x="68.39" y="828.9" text-anchor="middle" font-size="9.5">a</text><path d="M116.78 776.2V800.6M114.48 776.2H119.08M114.48 800.6H119.08" stroke="#000" stroke-width="1" fill="none"/><text x="116.78" y="770" text-anchor="middle" font-size="9.5">b</text><path d="M165.16 837.8V851M162.86 837.8H167.46M162.86 851H167.46" stroke="#000" stroke-width="1" fill="none"/><text x="165.16" y="831.5" text-anchor="middle" font-size="9.5">a</text><path d="M213.54 828V855.8M211.24 828H215.84M211.24 855.8H215.84" stroke="#000" stroke-width="1" fill="none"/><text x="213.54" y="823.3" text-anchor="middle" font-size="9.5">a</text><path d="M261.93 783.4V803M259.62 783.4H264.23M259.62 803H264.23" stroke="#000" stroke-width="1" fill="none"/><text x="261.93" y="780.7" text-anchor="middle" font-size="9.5">b</text><path d="M310.31 833.6V849.4M308.01 833.6H312.61M308.01 849.4H312.61" stroke="#000" stroke-width="1" fill="none"/><text x="310.31" y="832.2" text-anchor="middle" font-size="9.5">a</text><path d="M40.3 713.5H334.5V877.8" stroke="#1a1a1a" stroke-width="1.15" fill="none"/><path d="M44.2 713.5V877.8H334.5" stroke="#1a1a1a" stroke-width="1.15" fill="none"/><text x="33.9" y="881" text-anchor="end" font-size="9.8" fill="#222">0</text><text x="33.9" y="848.14" text-anchor="end" font-size="9.8" fill="#222">5</text><text x="33.9" y="815.28" text-anchor="end" font-size="9.8" fill="#222">10</text><text x="33.9" y="782.42" text-anchor="end" font-size="9.8" fill="#222">15</text><text x="33.9" y="749.56" text-anchor="end" font-size="9.8" fill="#222">20</text><text x="33.9" y="716.7" text-anchor="end" font-size="9.8" fill="#222">25</text><path d="M40.3 877.8H44.2M40.3 844.94H44.2M40.3 812.08H44.2M40.3 779.22H44.2M40.3 746.36H44.2M40.3 713.5H44.2M44.2 877.8V881.4M92.58 877.8V881.4M140.97 877.8V881.4M189.35 877.8V881.4M237.73 877.8V881.4M286.12 877.8V881.4M334.5 877.8V881.4" stroke="#1a1a1a" stroke-width="1.15" fill="none"/><text x="68.39" y="895" text-anchor="middle" font-size="9.4" fill="#222" textLength="33" lengthAdjust="spacingAndGlyphs">Control</text><text x="116.78" y="895" text-anchor="middle" font-size="9.4" fill="#222" textLength="26.7" lengthAdjust="spacingAndGlyphs">Kappa</text><text x="165.16" y="895" text-anchor="middle" font-size="9.4" fill="#222" textLength="29.3" lengthAdjust="spacingAndGlyphs">CHS+K</text><text x="213.54" y="895" text-anchor="middle" font-size="9.4" fill="#222" textLength="26.2" lengthAdjust="spacingAndGlyphs">Lyc+K</text><text x="261.93" y="895" text-anchor="middle" font-size="9.4" fill="#222" textLength="29" lengthAdjust="spacingAndGlyphs">BSO+K</text><text x="310.31" y="895" text-anchor="middle" font-size="9.4" fill="#222" textLength="27.3" lengthAdjust="spacingAndGlyphs">Aur+K</text><text x="163.4" y="733.9" font-size="14.8" font-weight="bold" textLength="44.8" lengthAdjust="spacingAndGlyphs">OGDH</text><text x="5.7" y="699.9" font-size="15" font-weight="bold">G</text><text transform="translate(19.3 883) rotate(-90)" x="0" y="0" font-size="9.7" font-weight="bold" textLength="167.2" lengthAdjust="spacingAndGlyphs">OGDH activity (nmol min<tspan font-size="6" dy="-3.6">-1</tspan><tspan dy="3.6"> mg</tspan><tspan font-size="6" dy="-3.6">-1</tspan><tspan dy="3.6"> prot)</tspan></text></g>
<g><rect x="419" y="798.1" width="19.33" height="79.7" fill="#fff" stroke="#000" stroke-width="1"/><rect x="467.33" y="761.4" width="19.33" height="116.4" fill="#000" stroke="#000" stroke-width="1"/><rect x="515.67" y="799.7" width="19.33" height="78.1" fill="url(#pCHS7)" stroke="#000" stroke-width="1"/><rect x="564" y="784.2" width="19.33" height="93.6" fill="url(#pLYC7)" stroke="#000" stroke-width="1"/><rect x="612.33" y="764.5" width="19.33" height="113.3" fill="url(#pBSO7)" stroke="#000" stroke-width="1"/><rect x="660.67" y="784.2" width="19.33" height="93.6" fill="url(#pAUR7)" stroke="#000" stroke-width="1"/><path d="M428.67 795.6V800.6M426.37 795.6H430.97M426.37 800.6H430.97" stroke="#000" stroke-width="1" fill="none"/><text x="428.67" y="787.1" text-anchor="middle" font-size="9.5">a</text><path d="M477 757.6V765.2M474.7 757.6H479.3M474.7 765.2H479.3" stroke="#000" stroke-width="1" fill="none"/><text x="477" y="748.7" text-anchor="middle" font-size="9.5">b</text><path d="M525.33 796.4V803M523.03 796.4H527.63M523.03 803H527.63" stroke="#000" stroke-width="1" fill="none"/><text x="525.33" y="787.1" text-anchor="middle" font-size="9.5">a</text><path d="M573.67 778.8V789.6M571.37 778.8H575.97M571.37 789.6H575.97" stroke="#000" stroke-width="1" fill="none"/><text x="573.67" y="771.5" text-anchor="middle" font-size="9.5">c</text><path d="M622 758.2V770.8M619.7 758.2H624.3M619.7 770.8H624.3" stroke="#000" stroke-width="1" fill="none"/><text x="622" y="752.4" text-anchor="middle" font-size="9.5">b</text><path d="M670.33 779.4V789M668.03 779.4H672.63M668.03 789H672.63" stroke="#000" stroke-width="1" fill="none"/><text x="670.33" y="770.7" text-anchor="middle" font-size="9.5">c</text><path d="M400.6 713.4H694.5V877.8" stroke="#1a1a1a" stroke-width="1.15" fill="none"/><path d="M404.5 713.4V877.8H694.5" stroke="#1a1a1a" stroke-width="1.15" fill="none"/><text x="394.2" y="881" text-anchor="end" font-size="9.8" fill="#222">0</text><text x="394.2" y="853.6" text-anchor="end" font-size="9.8" fill="#222">5</text><text x="394.2" y="826.2" text-anchor="end" font-size="9.8" fill="#222">10</text><text x="394.2" y="798.8" text-anchor="end" font-size="9.8" fill="#222">15</text><text x="394.2" y="771.4" text-anchor="end" font-size="9.8" fill="#222">20</text><text x="394.2" y="744" text-anchor="end" font-size="9.8" fill="#222">25</text><text x="394.2" y="716.6" text-anchor="end" font-size="9.8" fill="#222">30</text><path d="M400.6 877.8H404.5M400.6 850.4H404.5M400.6 823H404.5M400.6 795.6H404.5M400.6 768.2H404.5M400.6 740.8H404.5M400.6 713.4H404.5M404.5 877.8V881.4M452.83 877.8V881.4M501.17 877.8V881.4M549.5 877.8V881.4M597.83 877.8V881.4M646.17 877.8V881.4M694.5 877.8V881.4" stroke="#1a1a1a" stroke-width="1.15" fill="none"/><text x="428.67" y="895" text-anchor="middle" font-size="9.4" fill="#222" textLength="33" lengthAdjust="spacingAndGlyphs">Control</text><text x="477" y="895" text-anchor="middle" font-size="9.4" fill="#222" textLength="26.7" lengthAdjust="spacingAndGlyphs">Kappa</text><text x="525.33" y="895" text-anchor="middle" font-size="9.4" fill="#222" textLength="29.3" lengthAdjust="spacingAndGlyphs">CHS+K</text><text x="573.67" y="895" text-anchor="middle" font-size="9.4" fill="#222" textLength="26.2" lengthAdjust="spacingAndGlyphs">Lyc+K</text><text x="622" y="895" text-anchor="middle" font-size="9.4" fill="#222" textLength="29" lengthAdjust="spacingAndGlyphs">BSO+K</text><text x="670.33" y="895" text-anchor="middle" font-size="9.4" fill="#222" textLength="27.3" lengthAdjust="spacingAndGlyphs">Aur+K</text><text x="522.7" y="735" font-size="14.8" font-weight="bold" textLength="51.2" lengthAdjust="spacingAndGlyphs">IMPDH</text><text x="373.6" y="699.6" font-size="15" font-weight="bold">H</text><text transform="translate(379.9 887.1) rotate(-90)" x="0" y="0" font-size="9.7" font-weight="bold" textLength="171.3" lengthAdjust="spacingAndGlyphs">IMPDH activity (µmol min<tspan font-size="6" dy="-3.6">-1</tspan><tspan dy="3.6"> mg</tspan><tspan font-size="6" dy="-3.6">-1</tspan><tspan dy="3.6"> prot)</tspan></text></g>
<g><rect x="58.71" y="1046.6" width="19.35" height="62.7" fill="#fff" stroke="#000" stroke-width="1"/><rect x="107.08" y="1011.2" width="19.35" height="98.1" fill="#000" stroke="#000" stroke-width="1"/><rect x="155.44" y="1038.3" width="19.35" height="71" fill="url(#pCHS8)" stroke="#000" stroke-width="1"/><rect x="203.81" y="1028.4" width="19.35" height="80.9" fill="url(#pLYC8)" stroke="#000" stroke-width="1"/><rect x="252.18" y="1019.4" width="19.35" height="89.9" fill="url(#pBSO8)" stroke="#000" stroke-width="1"/><rect x="300.54" y="1030.9" width="19.35" height="78.4" fill="url(#pAUR8)" stroke="#000" stroke-width="1"/><path d="M68.38 1039.8V1053.4M66.08 1039.8H70.68M66.08 1053.4H70.68" stroke="#000" stroke-width="1" fill="none"/><text x="68.38" y="1036" text-anchor="middle" font-size="9.5">a</text><path d="M116.75 1003.1V1019.3M114.45 1003.1H119.05M114.45 1019.3H119.05" stroke="#000" stroke-width="1" fill="none"/><text x="116.75" y="998.3" text-anchor="middle" font-size="9.5">b</text><path d="M165.12 1034.2V1042.4M162.82 1034.2H167.42M162.82 1042.4H167.42" stroke="#000" stroke-width="1" fill="none"/><text x="165.12" y="1025.3" text-anchor="middle" font-size="9.5">c</text><path d="M213.48 1023.6V1033.2M211.18 1023.6H215.78M211.18 1033.2H215.78" stroke="#000" stroke-width="1" fill="none"/><text x="213.48" y="1014.5" text-anchor="middle" font-size="9.5">c</text><path d="M261.85 1013.8V1025M259.55 1013.8H264.15M259.55 1025H264.15" stroke="#000" stroke-width="1" fill="none"/><text x="261.85" y="1006.6" text-anchor="middle" font-size="9.5">b</text><path d="M310.22 1025.7V1036.1M307.92 1025.7H312.52M307.92 1036.1H312.52" stroke="#000" stroke-width="1" fill="none"/><text x="310.22" y="1017.4" text-anchor="middle" font-size="9.5">c</text><path d="M40.3 944.5H334.4V1109.3" stroke="#1a1a1a" stroke-width="1.15" fill="none"/><path d="M44.2 944.5V1109.3H334.4" stroke="#1a1a1a" stroke-width="1.15" fill="none"/><text x="33.9" y="1112.5" text-anchor="end" font-size="9.8" fill="#222">0</text><text x="33.9" y="1090.53" text-anchor="end" font-size="9.8" fill="#222">2</text><text x="33.9" y="1068.55" text-anchor="end" font-size="9.8" fill="#222">4</text><text x="33.9" y="1046.58" text-anchor="end" font-size="9.8" fill="#222">6</text><text x="33.9" y="1024.61" text-anchor="end" font-size="9.8" fill="#222">8</text><text x="33.9" y="1002.63" text-anchor="end" font-size="9.8" fill="#222">10</text><text x="33.9" y="980.66" text-anchor="end" font-size="9.8" fill="#222">12</text><text x="33.9" y="958.69" text-anchor="end" font-size="9.8" fill="#222">14</text><path d="M40.3 1109.3H44.2M40.3 1087.33H44.2M40.3 1065.35H44.2M40.3 1043.38H44.2M40.3 1021.41H44.2M40.3 999.43H44.2M40.3 977.46H44.2M40.3 955.49H44.2M44.2 1109.3V1112.9M92.57 1109.3V1112.9M140.93 1109.3V1112.9M189.3 1109.3V1112.9M237.67 1109.3V1112.9M286.03 1109.3V1112.9M334.4 1109.3V1112.9" stroke="#1a1a1a" stroke-width="1.15" fill="none"/><text x="68.38" y="1126.5" text-anchor="middle" font-size="9.4" fill="#222" textLength="33" lengthAdjust="spacingAndGlyphs">Control</text><text x="116.75" y="1126.5" text-anchor="middle" font-size="9.4" fill="#222" textLength="26.7" lengthAdjust="spacingAndGlyphs">Kappa</text><text x="165.12" y="1126.5" text-anchor="middle" font-size="9.4" fill="#222" textLength="29.3" lengthAdjust="spacingAndGlyphs">CHS+K</text><text x="213.48" y="1126.5" text-anchor="middle" font-size="9.4" fill="#222" textLength="26.2" lengthAdjust="spacingAndGlyphs">Lyc+K</text><text x="261.85" y="1126.5" text-anchor="middle" font-size="9.4" fill="#222" textLength="29" lengthAdjust="spacingAndGlyphs">BSO+K</text><text x="310.22" y="1126.5" text-anchor="middle" font-size="9.4" fill="#222" textLength="27.3" lengthAdjust="spacingAndGlyphs">Aur+K</text><text x="159.7" y="964.2" font-size="14.8" font-weight="bold" textLength="55.6" lengthAdjust="spacingAndGlyphs">DHODH</text><text x="5.8" y="929.8" font-size="15" font-weight="bold">I</text><text transform="translate(19 1113.7) rotate(-90)" x="0" y="0" font-size="9.7" font-weight="bold" textLength="166.6" lengthAdjust="spacingAndGlyphs">DHODH activity (µmol min<tspan font-size="6" dy="-3.6">-1</tspan><tspan dy="3.6"> mg</tspan><tspan font-size="6" dy="-3.6">-1</tspan><tspan dy="3.6"> prot)</tspan></text></g>
<g><rect x="419" y="1041.4" width="19.33" height="67.9" fill="#fff" stroke="#000" stroke-width="1"/><rect x="467.33" y="1005.6" width="19.33" height="103.7" fill="#000" stroke="#000" stroke-width="1"/><rect x="515.67" y="1034.2" width="19.33" height="75.1" fill="url(#pCHS9)" stroke="#000" stroke-width="1"/><rect x="564" y="1009.3" width="19.33" height="100" fill="url(#pLYC9)" stroke="#000" stroke-width="1"/><rect x="612.33" y="1009.6" width="19.33" height="99.7" fill="url(#pBSO9)" stroke="#000" stroke-width="1"/><rect x="660.67" y="1029" width="19.33" height="80.3" fill="url(#pAUR9)" stroke="#000" stroke-width="1"/><path d="M428.67 1036.5V1046.3M426.37 1036.5H430.97M426.37 1046.3H430.97" stroke="#000" stroke-width="1" fill="none"/><text x="428.67" y="1030.4" text-anchor="middle" font-size="9.5">a</text><path d="M477 1000.7V1010.5M474.7 1000.7H479.3M474.7 1010.5H479.3" stroke="#000" stroke-width="1" fill="none"/><text x="477" y="992.6" text-anchor="middle" font-size="9.5">b</text><path d="M525.33 1030.4V1038M523.03 1030.4H527.63M523.03 1038H527.63" stroke="#000" stroke-width="1" fill="none"/><text x="525.33" y="1021.5" text-anchor="middle" font-size="9.5">c</text><path d="M573.67 1004.4V1014.2M571.37 1004.4H575.97M571.37 1014.2H575.97" stroke="#000" stroke-width="1" fill="none"/><text x="573.67" y="994.8" text-anchor="middle" font-size="9.5">b</text><path d="M622 1003.5V1015.7M619.7 1003.5H624.3M619.7 1015.7H624.3" stroke="#000" stroke-width="1" fill="none"/><text x="622" y="996.7" text-anchor="middle" font-size="9.5">b</text><path d="M670.33 1022.6V1035.4M668.03 1022.6H672.63M668.03 1035.4H672.63" stroke="#000" stroke-width="1" fill="none"/><text x="670.33" y="1015.3" text-anchor="middle" font-size="9.5">c</text><path d="M400.6 944.6H694.5V1109.3" stroke="#1a1a1a" stroke-width="1.15" fill="none"/><path d="M404.5 944.6V1109.3H694.5" stroke="#1a1a1a" stroke-width="1.15" fill="none"/><text x="394.2" y="1112.5" text-anchor="end" font-size="9.8" fill="#222">0</text><text x="394.2" y="1085.05" text-anchor="end" font-size="9.8" fill="#222">5</text><text x="394.2" y="1057.6" text-anchor="end" font-size="9.8" fill="#222">10</text><text x="394.2" y="1030.15" text-anchor="end" font-size="9.8" fill="#222">15</text><text x="394.2" y="1002.7" text-anchor="end" font-size="9.8" fill="#222">20</text><text x="394.2" y="975.25" text-anchor="end" font-size="9.8" fill="#222">25</text><text x="394.2" y="947.8" text-anchor="end" font-size="9.8" fill="#222">30</text><path d="M400.6 1109.3H404.5M400.6 1081.85H404.5M400.6 1054.4H404.5M400.6 1026.95H404.5M400.6 999.5H404.5M400.6 972.05H404.5M400.6 944.6H404.5M404.5 1109.3V1112.9M452.83 1109.3V1112.9M501.17 1109.3V1112.9M549.5 1109.3V1112.9M597.83 1109.3V1112.9M646.17 1109.3V1112.9M694.5 1109.3V1112.9" stroke="#1a1a1a" stroke-width="1.15" fill="none"/><text x="428.67" y="1126.5" text-anchor="middle" font-size="9.4" fill="#222" textLength="33" lengthAdjust="spacingAndGlyphs">Control</text><text x="477" y="1126.5" text-anchor="middle" font-size="9.4" fill="#222" textLength="26.7" lengthAdjust="spacingAndGlyphs">Kappa</text><text x="525.33" y="1126.5" text-anchor="middle" font-size="9.4" fill="#222" textLength="29.3" lengthAdjust="spacingAndGlyphs">CHS+K</text><text x="573.67" y="1126.5" text-anchor="middle" font-size="9.4" fill="#222" textLength="26.2" lengthAdjust="spacingAndGlyphs">Lyc+K</text><text x="622" y="1126.5" text-anchor="middle" font-size="9.4" fill="#222" textLength="29" lengthAdjust="spacingAndGlyphs">BSO+K</text><text x="670.33" y="1126.5" text-anchor="middle" font-size="9.4" fill="#222" textLength="27.3" lengthAdjust="spacingAndGlyphs">Aur+K</text><text x="521.6" y="964.8" font-size="14.8" font-weight="bold" textLength="51.1" lengthAdjust="spacingAndGlyphs">G6PDH</text><text x="373.3" y="929.8" font-size="15" font-weight="bold">J</text><text transform="translate(379.9 1118.6) rotate(-90)" x="0" y="0" font-size="9.7" font-weight="bold" textLength="170.7" lengthAdjust="spacingAndGlyphs">G6PDH activity (µmol min<tspan font-size="6" dy="-3.6">-1</tspan><tspan dy="3.6"> mg</tspan><tspan font-size="6" dy="-3.6">-1</tspan><tspan dy="3.6"> prot)</tspan></text></g>
</svg>
</body></html>
